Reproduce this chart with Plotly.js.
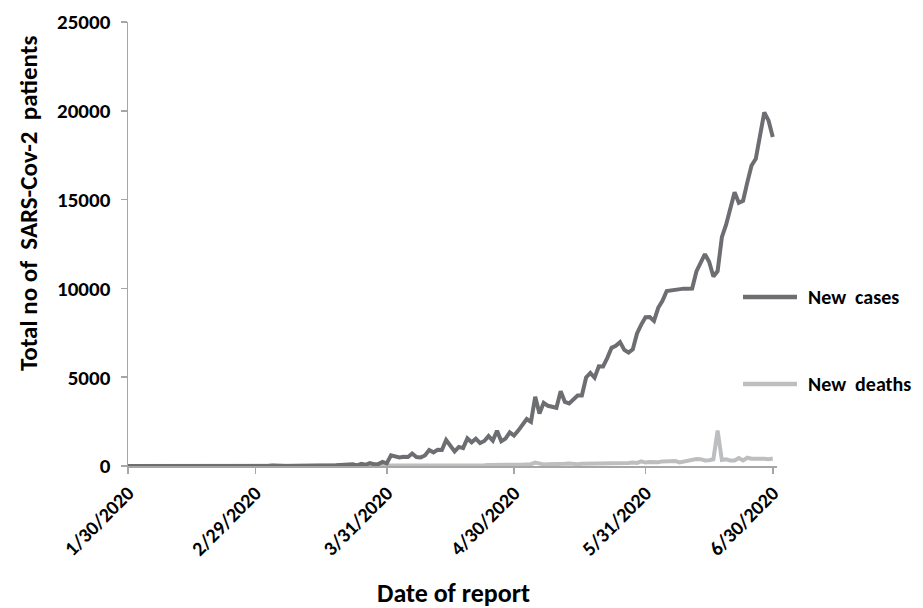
<!DOCTYPE html>
<html>
<head>
<meta charset="utf-8">
<script src="https://cdn.plot.ly/plotly-3.0.1.min.js"></script>
<style>html,body{margin:0;padding:0;background:#fff;}#chart{width:923px;height:608px;}</style>
</head>
<body>
<div id="chart"></div>
<script>
// ---- data (daily values, 30 Jan 2020 .. 30 Jun 2020) ----
const startDate = '2020-01-30';
const casesJan = [1, 0];
const casesFeb = [0,1,1,0,0,0,0,0,0,0,0,0,0,0,0,0,0,0,0,0,0,0,0,0,0,0,0,0,0];
const casesMar = [0,2,1,22,1,2,3,5,4,13,6,11,9,20,11,15,14,14,38,50,86,66,103,37,121,70,160,100,106,227,146];
const casesApr = [601,545,478,515,506,704,508,485,591,896,768,918,905,1463,1118,826,1076,1007,1553,1334,1540,1290,1409,1684,1429,1990,1396,1543,1897,1718];
const casesMay = [1993,2293,2644,2487,3900,2958,3561,3390,3320,3277,4213,3604,3525,3722,3967,3970,4987,5242,4970,5611,5609,6088,6654,6767,6977,6535,6387,6566,7466,7964,8380];
const casesJun = [8392,8171,8909,9304,9851,9887,9971,9983,9987,9985,9996,10956,11458,11929,11502,10667,10974,12881,13586,14516,15413,14821,14933,15968,16922,17296,18552,19906,19459,18522];

const deathsJan = [0, 0];
const deathsFeb = [0,0,0,0,0,0,0,0,0,0,0,0,0,0,0,0,0,0,0,0,0,0,0,0,0,0,0,0,0];
const deathsMar = [0,0,0,0,0,0,0,0,0,0,0,1,1,0,0,0,1,0,1,1,0,3,2,1,1,3,4,3,4,11,3];
const deathsApr = [6,12,12,15,22,33,13,35,24,40,31,36,30,39,38,28,43,33,31,47,40,43,38,57,52,50,54,61,71,71];
const deathsMay = [77,73,84,100,195,126,89,104,95,97,82,121,136,100,104,120,120,154,134,140,132,148,137,147,146,146,170,194,175,265,193];
const deathsJun = [230,204,217,260,273,294,287,206,266,331,357,396,386,311,325,380,2003,336,375,306,306,445,312,465,407,384,413,410,380,418];

const tickDates = ['2020-01-30','2020-02-29','2020-03-31','2020-04-30','2020-05-31','2020-06-30'];
const tickLabels = ['1/30/2020','2/29/2020','3/31/2020','4/30/2020','5/31/2020','6/30/2020'];
const yTickVals = [0, 5000, 10000, 15000, 20000, 25000];
const yTickLabels = ['0', '5000', '10000', '15000', '20000', '25000'];
const seriesNames = ['New\u00a0 cases', 'New\u00a0 deaths'];
const seriesColors = ['#6d6e71', '#bcbec0'];
const xTitle = 'Date of report';
const yTitle = 'Total no of\u00a0 SARS-Cov-2\u00a0 patients';

const cases = [].concat(casesJan, casesFeb, casesMar, casesApr, casesMay, casesJun);
const deaths = [].concat(deathsJan, deathsFeb, deathsMar, deathsApr, deathsMay, deathsJun);

function dateSeq(start, n) {
  const out = [];
  const d0 = new Date(start + 'T00:00:00Z');
  for (let i = 0; i < n; i++) {
    const d = new Date(d0.getTime() + i * 86400000);
    out.push(d.toISOString().slice(0, 10));
  }
  return out;
}
const dates = dateSeq(startDate, cases.length);

const FONT = 'Carlito, Lato, "Open Sans", sans-serif';

const traces = [
  {x: dates, y: deaths, type: 'scatter', mode: 'lines', name: seriesNames[1],
   line: {color: seriesColors[1], width: 4}, showlegend: false},
  {x: dates, y: cases, type: 'scatter', mode: 'lines', name: seriesNames[0],
   line: {color: seriesColors[0], width: 4}, showlegend: false}
];

// plot area pixel geometry
const L = 128, R = 777, T = 22, B = 466;
const W = R - L, H = B - T;
const px = x => (x - L) / W;
const py = y => (B - y) / H;

const legendY = [297, 384];
const shapes = [];
const annotations = [];
for (let i = 0; i < seriesNames.length; i++) {
  shapes.push({type: 'line', xref: 'paper', yref: 'paper',
    x0: px(743), x1: px(797), y0: py(legendY[i]), y1: py(legendY[i]),
    line: {color: seriesColors[i], width: 4.5}});
  annotations.push({xref: 'paper', yref: 'paper', x: px(806), y: py(legendY[i]),
    xanchor: 'left', yanchor: 'middle', showarrow: false, text: seriesNames[i],
    font: {family: FONT, size: 20, color: '#000', weight: 'bold'}});
}
annotations.push({xref: 'paper', yref: 'paper', x: px(453), y: py(593),
  xanchor: 'center', yanchor: 'middle', showarrow: false, text: xTitle,
  font: {family: FONT, size: 26, color: '#000', weight: 'bold'}});
annotations.push({xref: 'paper', yref: 'paper', x: px(28), y: py(204),
  xanchor: 'center', yanchor: 'middle', showarrow: false, text: yTitle, textangle: -90,
  font: {family: FONT, size: 25, color: '#000', weight: 'bold'}});

const layout = {
  width: 923, height: 608,
  margin: {l: L, r: 923 - R, t: T, b: 608 - B},
  paper_bgcolor: '#fff', plot_bgcolor: '#fff',
  showlegend: false,
  xaxis: {
    type: 'date', range: ['2020-01-30', '2020-07-01'],
    tickvals: tickDates, ticktext: tickLabels, tickangle: -45,
    showgrid: false, zeroline: false, showline: true, linecolor: '#a6a6a6', linewidth: 1.5,
    ticks: 'outside', ticklen: 6, tickcolor: '#a6a6a6', tickwidth: 1.5,
    tickfont: {family: FONT, size: 20, color: '#000', weight: 'bold'}
  },
  yaxis: {
    range: [0, 25000], tickvals: yTickVals, ticktext: yTickLabels,
    showgrid: false, zeroline: false, showline: true, linecolor: '#a6a6a6', linewidth: 1.5,
    ticks: 'outside', ticklen: 6, tickcolor: '#a6a6a6', tickwidth: 1.5, ticklabelstandoff: 6,
    tickfont: {family: FONT, size: 21, color: '#000', weight: 'bold'}
  },
  shapes: shapes,
  annotations: annotations
};

Plotly.newPlot('chart', traces, layout, {displayModeBar: false, staticPlot: true});
</script>
</body>
</html>
